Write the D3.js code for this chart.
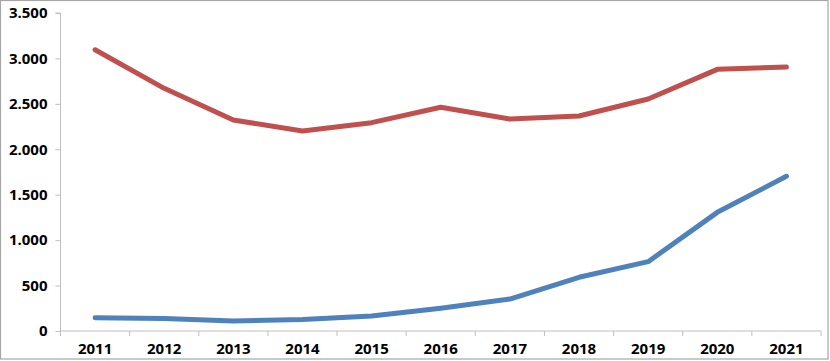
<!DOCTYPE html>
<html>
<head>
<meta charset="utf-8">
<script src="https://cdn.jsdelivr.net/npm/d3@7/dist/d3.min.js"></script>
<style>
  html, body { margin: 0; padding: 0; background: #fff; }
  svg { display: block; }
</style>
</head>
<body>
<svg id="chart" width="830" height="361"></svg>
<script>
const years = ["2011","2012","2013","2014","2015","2016","2017","2018","2019","2020","2021"];
const redValues = [3095, 2671, 2322, 2201, 2293, 2462, 2333, 2366, 2553, 2880, 2905];
const blueValues = [146, 138, 110, 127, 165, 250, 352, 591, 763, 1306, 1703];
const yTicks = [0, 500, 1000, 1500, 2000, 2500, 3000, 3500];

const svg = d3.select("#chart");
const m = { left: 60.5, right: 821, top: 13, bottom: 331 };

// outer frame
svg.append("rect").attr("x", 0.5).attr("y", 0.5).attr("width", 827.5).attr("height", 358.5)
  .attr("fill", "#fff").attr("stroke", "#a6a6a6").attr("stroke-width", 1.2);

const x = d3.scaleBand().domain(years).range([m.left, m.right]).padding(0);
const y = d3.scaleLinear().domain([0, 3500]).range([m.bottom, m.top]);

const fmt = v => d3.format(",")(v).replace(/,/g, ".");

const yAxis = svg.append("g").attr("transform", `translate(${m.left},0)`)
  .call(d3.axisLeft(y).tickValues(yTicks).tickSize(5).tickPadding(9).tickFormat(fmt));
yAxis.select(".domain").attr("stroke", "#bfbfbf").attr("d", `M-5,${m.top}H0V${m.bottom}`);
yAxis.selectAll(".tick line").attr("stroke", "#bfbfbf");

const xAxis = svg.append("g").attr("transform", `translate(0,${m.bottom})`)
  .call(d3.axisBottom(x).tickSize(0).tickPadding(12));
xAxis.select(".domain").attr("stroke", "#bfbfbf").attr("d", `M${m.left},0H${m.right}`);
// tick marks between categories
xAxis.selectAll(".sep").data(years.concat(["end"])).enter().append("line")
  .attr("class", "sep")
  .attr("x1", (d, i) => m.left + i * x.bandwidth())
  .attr("x2", (d, i) => m.left + i * x.bandwidth())
  .attr("y1", 0).attr("y2", 5).attr("stroke", "#bfbfbf");

svg.selectAll(".tick text")
  .attr("font-family", "'Open Sans', 'Noto Sans', sans-serif")
  .attr("font-weight", "bold")
  .attr("font-size", "15px")
  .attr("fill", "#000");
yAxis.selectAll(".tick text").attr("x", -13);

const line = d3.line()
  .x((d, i) => x(years[i]) + x.bandwidth() / 2)
  .y(d => y(d));

svg.append("path").datum(redValues).attr("d", line)
  .attr("fill", "none").attr("stroke", "#c0504d").attr("stroke-width", 5)
  .attr("stroke-linecap", "round").attr("stroke-linejoin", "round");
svg.append("path").datum(blueValues).attr("d", line)
  .attr("fill", "none").attr("stroke", "#4f81bd").attr("stroke-width", 5)
  .attr("stroke-linecap", "round").attr("stroke-linejoin", "round");
</script>
</body>
</html>
